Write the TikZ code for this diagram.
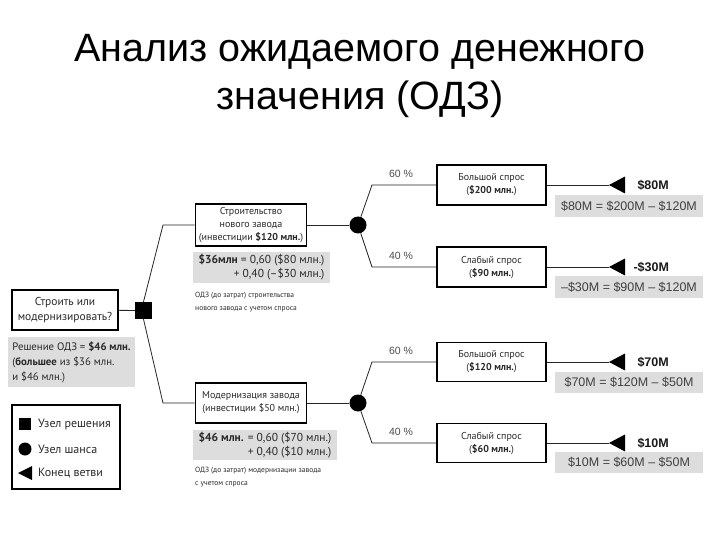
\documentclass[tikz,border=0pt]{standalone}
\usepackage{fontspec}
\setmainfont{PT Sans}
\newfontfamily\arial{Liberation Sans}
\usetikzlibrary{shapes.geometric}
\definecolor{greyfill}{HTML}{DDDDDD}
\definecolor{txt}{HTML}{2A2A2A}
\begin{document}
\begin{tikzpicture}[x=1pt,y=-1pt,
  box/.style={draw=black, line width=1.6pt, fill=white, align=center, inner sep=1pt,
    font=\fontsize{10}{13}\selectfont, text=txt},
  greybox/.style={fill=greyfill, inner sep=0pt, text=txt},
  formula/.style={greybox, font=\arial\fontsize{12.5}{15}\selectfont, text=black!75},
  link/.style={draw=black!85, line width=0.8pt},
  pct/.style={font=\arial\fontsize{10.5}{12}\selectfont, text=black!70},
  val/.style={font=\arial\bfseries\fontsize{12.5}{15}\selectfont, anchor=west, text=black!90},
  note/.style={font=\fontsize{7.5}{12.5}\selectfont, align=left, anchor=north west, inner sep=0pt, text=txt},
  legtext/.style={font=\fontsize{12}{14}\selectfont, anchor=west, inner sep=0pt, text=txt},
  endtri/.style={fill=black}
]
\useasboundingbox (0,0) rectangle (720,540);

% Title
\node[font=\arial\fontsize{39.5}{48}\selectfont, anchor=base] (title1) at (360,62) {Анализ ожидаемого денежного};
\node[font=\arial\fontsize{39.5}{48}\selectfont, anchor=base] (title2) at (360,110) {значения (ОДЗ)};

% Root
\node[box, minimum width=106pt, minimum height=40pt, font=\fontsize{11.5}{15}\selectfont] (q) at (65,310) {Строить или\\модернизировать?};
\node[fill=black, minimum size=17pt, inner sep=0pt] (dec) at (143.5,310.5) {};
\node[greybox, align=left, minimum width=127pt, minimum height=50pt, font=\fontsize{10.8}{15}\selectfont] (res) at (71.5,362) {Решение ОДЗ = \textbf{\$46 млн.}\\(\textbf{большее} из \$36 млн.\\и \$46 млн.)};

\draw[link] (q) -- (dec);
\coordinate (k1) at (163,225);
\coordinate (k2) at (163,403);

% Upper investment box
\node[box, minimum width=111pt, minimum height=42pt] (b1) at (251,225) {Строительство\\нового завода\\(инвестиции \textbf{\$120 млн.})};
\node[greybox, minimum width=137pt, minimum height=31pt, align=right, font=\fontsize{11.5}{14}\selectfont] (g1) at (261.5,267.5) {\textbf{\$36млн} = 0,60 (\$80 млн.)\\+ 0,40 (–\$30 млн.)};
\node[note] (n1) at (195,292) {ОДЗ (до затрат) строительства\\нового завода с учетом спроса};

% Lower investment box
\node[box, minimum width=111pt, minimum height=40pt] (b2) at (251,403) {Модернизация завода\\(инвестиции \$50 млн.)};
\node[greybox, minimum width=144pt, minimum height=30pt, align=right, font=\fontsize{11.5}{14}\selectfont] (g2) at (265,445) {\textbf{\$46 млн.} = 0,60 (\$70 млн.)\\+ 0,40 (\$10 млн.)};
\node[note] (n2) at (195,467) {ОДЗ (до затрат) модернизации завода\\с учетом спроса};

\draw[link] (dec.north) -- (k1) -- (b1.west);
\draw[link] (dec.south) -- (k2) -- (b2.west);

% Chance nodes
\node[circle, fill=black, minimum size=17pt, inner sep=0pt] (c1) at (358,225) {};
\node[circle, fill=black, minimum size=17pt, inner sep=0pt] (c2) at (358,403) {};
\draw[link] (b1.east) -- (c1);
\draw[link] (b2.east) -- (c2);

% Outcome boxes
\node[box, minimum width=109pt, minimum height=40pt] (o1) at (491.5,185) {Большой спрос\\(\textbf{\$200 млн.})};
\node[box, minimum width=109pt, minimum height=40pt] (o2) at (491.5,267) {Слабый спрос\\(\textbf{\$90 млн.})};
\node[box, minimum width=109pt, minimum height=39pt] (o3) at (491.5,362) {Большой спрос\\(\textbf{\$120 млн.})};
\node[box, minimum width=109pt, minimum height=39pt] (o4) at (491.5,443) {Слабый спрос\\(\textbf{\$60 млн.})};

\coordinate (d1) at (372,185);
\coordinate (d2) at (372,267);
\coordinate (d3) at (372,362);
\coordinate (d4) at (372,443);
\draw[link] (c1) -- (d1) -- (o1.west);
\draw[link] (c1) -- (d2) -- (o2.west);
\draw[link] (c2) -- (d3) -- (o3.west);
\draw[link] (c2) -- (d4) -- (o4.west);

\node[pct] (p1) at (401,174) {60 \%};
\node[pct] (p2) at (401,256) {40 \%};
\node[pct] (p3) at (401,351) {60 \%};
\node[pct] (p4) at (401,432) {40 \%};

% End branches
\coordinate (e1) at (609,185);
\coordinate (e2) at (609,267);
\coordinate (e3) at (609,362);
\coordinate (e4) at (609,443);
\draw[link] (o1.east) -- (e1);
\draw[link] (o2.east) -- (e2);
\draw[link] (o3.east) -- (e3);
\draw[link] (o4.east) -- (e4);
\foreach \e in {e1,e2,e3,e4}{
  \fill[endtri] (\e) -- ++(16,-8.5) -- ++(0,17) -- cycle;
}

\node[val] (v1) at (634,185) {\$80M};
\node[val] (v2) at (630,267) {-\$30M};
\node[val] (v3) at (634,362) {\$70M};
\node[val] (v4) at (634,443) {\$10M};

\node[formula, minimum width=148pt, minimum height=22pt] (f1) at (629,206) {\$80M = \$200M – \$120M};
\node[formula, minimum width=148pt, minimum height=22pt] (f2) at (629,287) {–\$30M = \$90M – \$120M};
\node[formula, minimum width=148pt, minimum height=21pt] (f3) at (629,382.5) {\$70M = \$120M – \$50M};
\node[formula, minimum width=148pt, minimum height=21pt] (f4) at (629,462.5) {\$10M = \$60M – \$50M};

% Legend
\node[draw=black, line width=1.5pt, minimum width=108pt, minimum height=84pt, inner sep=0pt] (leg) at (66,447) {};
\node[fill=black, minimum size=12.5pt, inner sep=0pt] (ls) at (25,424) {};
\node[legtext] (lt1) at (38,424) {Узел решения};
\node[circle, fill=black, minimum size=13pt, inner sep=0pt] (lc) at (25,449) {};
\node[legtext] (lt2) at (38,449) {Узел шанса};
\coordinate (lend) at (18,473);
\fill[endtri] (lend) -- ++(14,-7) -- ++(0,14) -- cycle;
\node[legtext] (lt3) at (38,473) {Конец ветви};
\end{tikzpicture}
\end{document}
